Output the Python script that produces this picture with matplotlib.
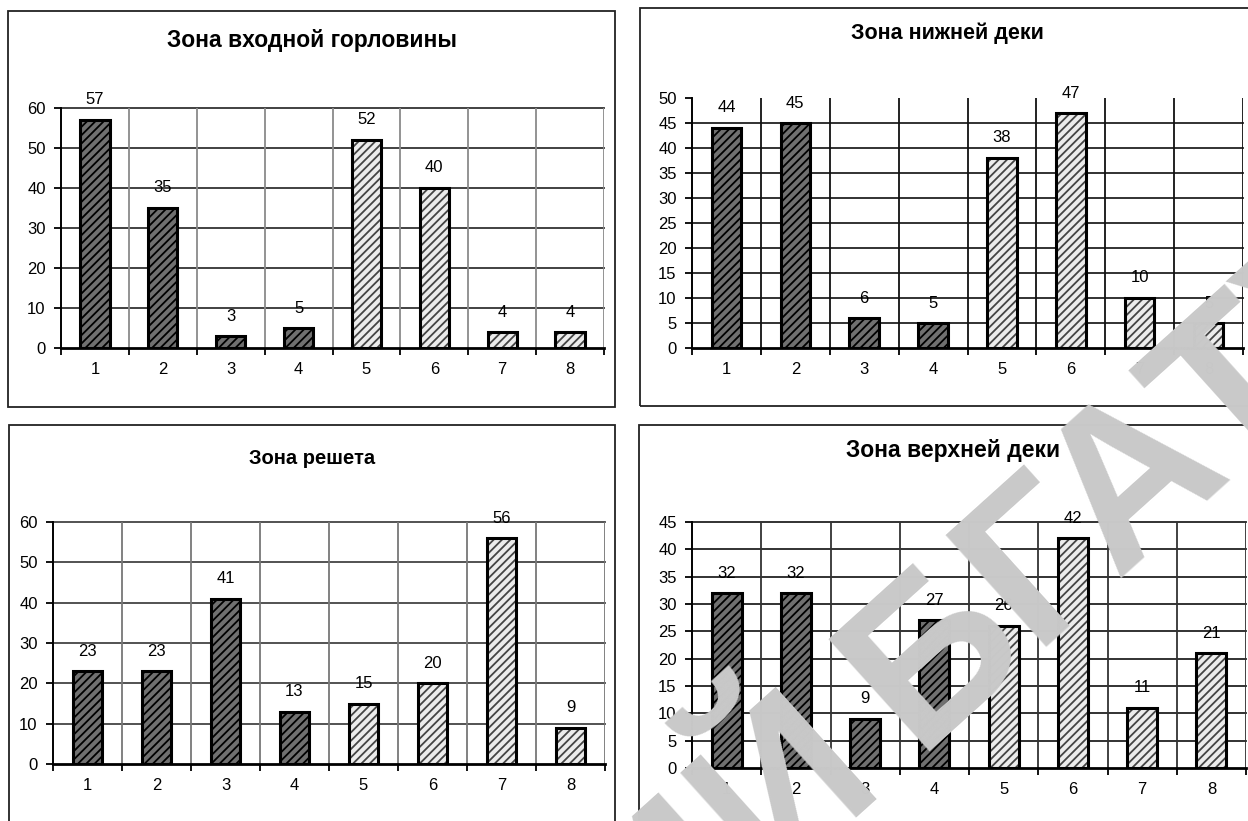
import matplotlib
matplotlib.use("Agg")
import matplotlib.pyplot as plt
from matplotlib.patches import Rectangle

plt.rcParams['font.family'] = ['Liberation Sans', 'DejaVu Sans']
plt.rcParams['hatch.linewidth'] = 1.3

W, H = 1248, 821

# categories and counts for the four zones
categories = [1, 2, 3, 4, 5, 6, 7, 8]
inlet_vals = [57, 35, 3, 5, 52, 40, 4, 4]
lower_deck_vals = [44, 45, 6, 5, 38, 47, 10, 5]
sieve_vals = [23, 23, 41, 13, 15, 20, 56, 9]
upper_deck_vals = [32, 32, 9, 27, 26, 42, 11, 21]

titles = ["Зона входной горловины", "Зона нижней деки",
          "Зона решета", "Зона верхней деки"]

# first four categories dark, last four light
dark = [True, True, True, True, False, False, False, False]


def px_rect(left, top, right, bottom):
    return [left / W, 1 - bottom / H, (right - left) / W, (bottom - top) / H]


fig = plt.figure(figsize=(W / 100, H / 100), dpi=100)

# outer frames of the four charts
for (l, t, r, b) in [(8, 11, 615, 407), (640, 8, 1252, 406),
                     (9, 425, 615, 825), (639, 425, 1252, 825)]:
    fig.patches.append(Rectangle((l / W, 1 - b / H), (r - l) / W, (b - t) / H,
                                 transform=fig.transFigure, fill=False,
                                 edgecolor='#222222', linewidth=1.3))


def draw_panel(rect, title, title_xy, title_size, vals, ymax, step, top_grid,
               vcol, hcol):
    ax = fig.add_axes(px_rect(*rect))
    for x, v, d in zip(categories, vals, dark):
        if d:
            ax.bar(x, v, width=0.43, color='#707070', edgecolor='black',
                   hatch='////', linewidth=0, zorder=3)
        else:
            ax.bar(x, v, width=0.43, color='#ececec', edgecolor='#444444',
                   hatch='////', linewidth=0, zorder=3)
        ax.bar(x, v, width=0.43, fill=False, edgecolor='black',
               linewidth=2.2, zorder=4)
        ax.annotate(str(v), (x, v), xytext=(0, 9), textcoords='offset points',
                    ha='center', va='bottom', fontsize=12)

    ax.set_xlim(0.5, 8.5)
    ax.set_ylim(0, ymax)
    yt = list(range(0, ymax + 1, step))
    ax.set_yticks(yt)
    for y in yt[1:]:
        if y == ymax and not top_grid:
            continue
        ax.axhline(y, color=hcol, linewidth=1.3, zorder=1, clip_on=False)
    for b in [1.5, 2.5, 3.5, 4.5, 5.5, 6.5, 7.5, 8.5]:
        ax.axvline(b, color=vcol, linewidth=1.3, zorder=1)

    ax.set_xticks(categories)
    ax.set_xticks([0.5, 1.5, 2.5, 3.5, 4.5, 5.5, 6.5, 7.5, 8.5], minor=True)
    ax.tick_params(axis='x', which='major', length=0, pad=10, labelsize=12)
    ax.tick_params(axis='x', which='minor', length=5, width=1.3, direction='out')
    ax.tick_params(axis='y', length=5, width=1.3, direction='out', pad=6,
                   labelsize=12)
    for s in ['top', 'right']:
        ax.spines[s].set_visible(False)
    ax.spines['left'].set_linewidth(1.4)
    ax.spines['bottom'].set_linewidth(2)
    ax.spines['bottom'].set_zorder(5)
    ax.set_facecolor('none')
    fig.text(title_xy[0] / W, 1 - title_xy[1] / H, title, ha='center',
             va='center', fontsize=title_size, fontweight='bold')
    return ax


draw_panel((61, 108, 604, 348), titles[0], (312, 40), 16.5, inlet_vals, 60, 10,
           True, '#8a8a8a', '#333333')
draw_panel((692, 98, 1243, 348), titles[1], (947, 33), 15.5, lower_deck_vals,
           50, 5, False, '#111111', '#222222')
draw_panel((53, 522, 605, 764), titles[2], (312, 458), 14.5, sieve_vals, 60, 10,
           True, '#777777', '#444444')
draw_panel((692, 522, 1246, 768), titles[3], (953, 450), 16.5, upper_deck_vals,
           45, 5, True, '#333333', '#222222')

# library stamp running up to the right corner
stamp = dict(rotation=42, rotation_mode='anchor', va='baseline',
             fontsize=158, fontweight='bold', color='#c9c9c9', zorder=10)
fig.text(885 / W, 1 - 779 / H, "РЕПОЗИТОРИЙ", ha='right', **stamp)
fig.text(915 / W, 1 - 752 / H, "БГАТУ", ha='left', **stamp)

fig.savefig("out.png", dpi=100)
